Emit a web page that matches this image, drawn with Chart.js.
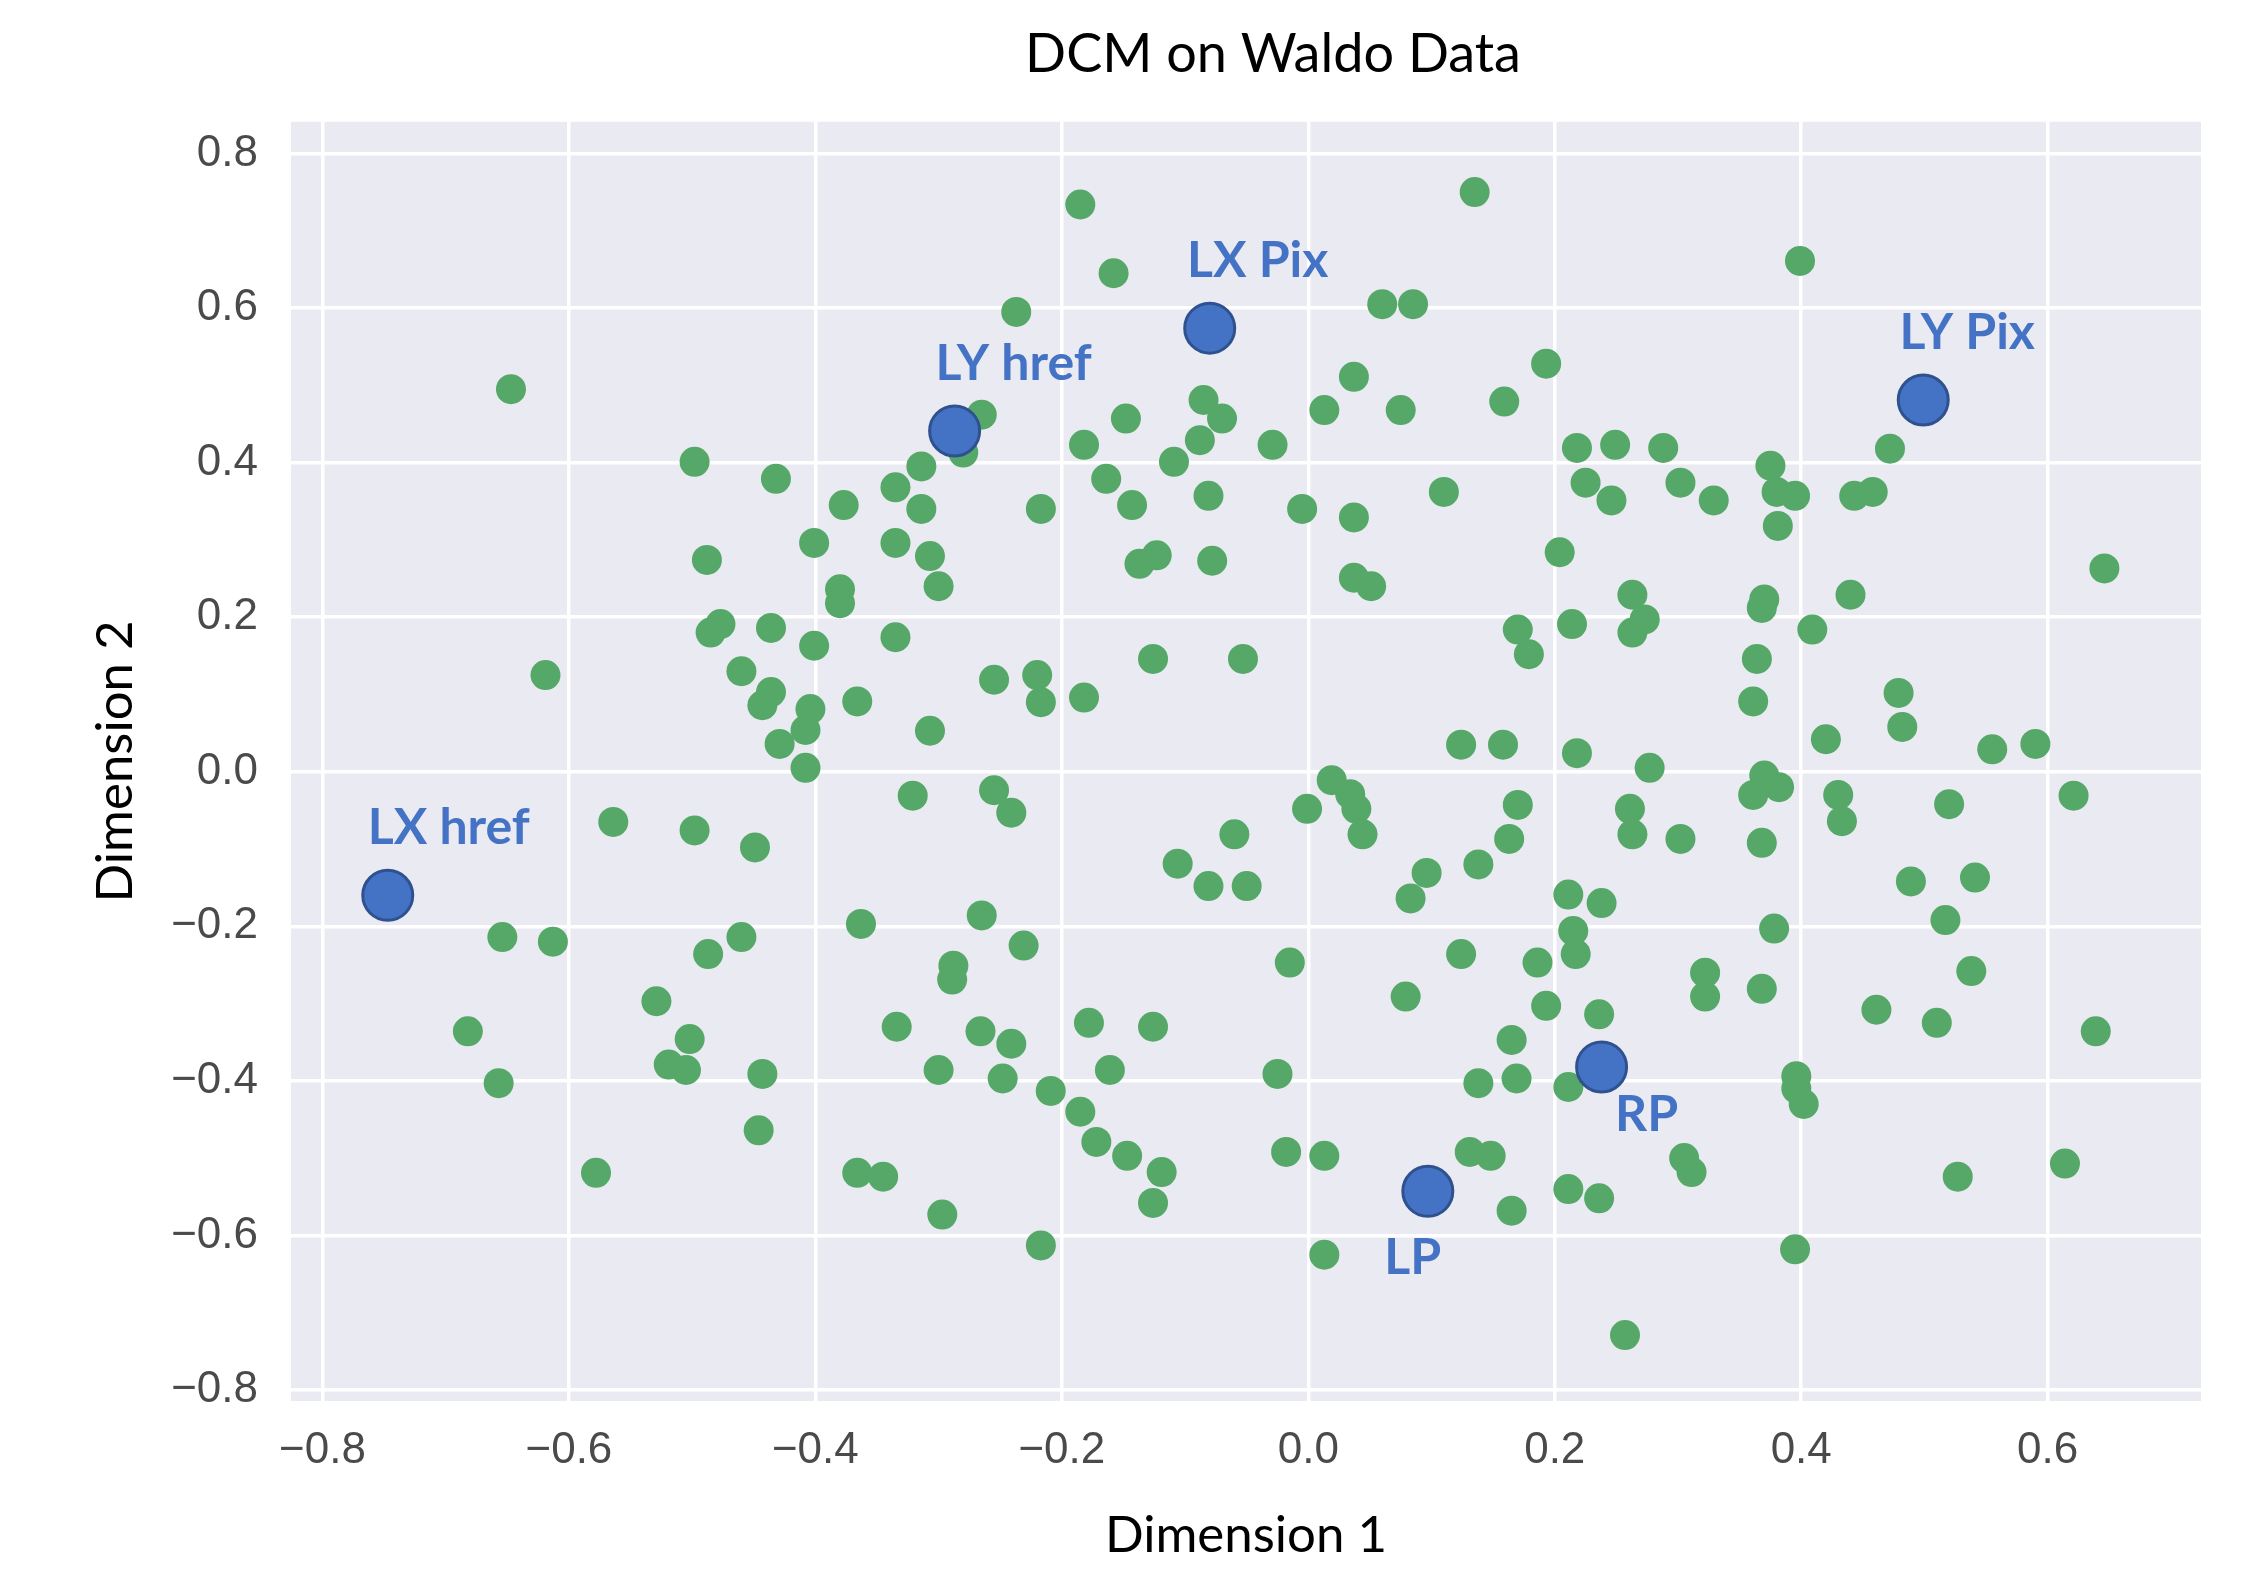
<!DOCTYPE html>
<html>
<head>
<meta charset="utf-8">
<script src="https://cdn.jsdelivr.net/npm/chart.js@4.4.1/dist/chart.umd.min.js"></script>
<style>
html,body{margin:0;padding:0;background:#fff;}
#wrap{width:2259px;height:1577px;}
canvas{display:block;}
</style>
</head>
<body>
<div id="wrap"><canvas id="c" width="2259" height="1577" style="width:2259px;height:1577px"></canvas></div>
<script>
// ---------------- DATA ----------------
const chartTitle = 'DCM on Waldo Data';
const xTitle = 'Dimension 1';
const yTitle = 'Dimension 2';

const greenX = [
-0.185,0.135,-0.158,0.399,-0.237,0.060,0.085,-0.647,0.193,0.037,
-0.265,-0.280,-0.085,-0.070,-0.088,0.013,0.075,0.159,-0.148,-0.182,
-0.029,-0.109,-0.498,-0.314,-0.432,0.218,0.249,0.288,0.375,0.472,
-0.335,-0.314,-0.377,-0.217,-0.164,-0.143,-0.081,-0.005,0.037,0.110,
0.225,0.246,0.302,0.329,0.380,0.395,0.381,0.443,0.458,-0.401,
-0.335,-0.307,-0.300,-0.488,-0.123,-0.137,-0.078,0.204,0.037,0.051,
-0.380,-0.380,0.263,0.370,0.368,0.440,0.646,-0.477,-0.485,-0.436,
-0.401,-0.335,0.170,0.214,0.263,0.273,0.409,0.179,-0.126,-0.053,
0.364,-0.619,-0.460,-0.255,-0.220,-0.217,-0.182,-0.366,-0.436,-0.443,
-0.404,-0.408,-0.429,-0.408,-0.307,0.361,0.479,0.482,0.420,0.124,
0.158,0.218,0.277,0.555,0.590,0.019,0.034,0.039,0.044,-0.001,
0.170,0.261,0.263,0.302,0.361,0.370,0.382,0.368,0.430,0.433,
0.520,0.621,-0.321,-0.255,-0.241,-0.564,-0.498,-0.449,-0.060,0.163,
-0.106,-0.081,-0.050,0.096,0.138,0.083,0.211,0.238,0.489,0.541,
-0.363,-0.654,-0.613,-0.460,-0.265,-0.231,0.215,0.217,0.378,0.517,
-0.487,-0.288,-0.289,-0.015,0.124,0.186,0.322,0.322,0.538,-0.529,
0.079,0.193,0.368,0.461,0.236,-0.682,-0.502,-0.334,-0.266,-0.241,
-0.178,-0.126,0.165,0.510,0.639,-0.519,-0.505,-0.657,-0.443,-0.300,
-0.248,-0.161,-0.025,0.138,0.169,0.211,0.396,0.396,0.402,-0.209,
-0.185,-0.446,-0.172,-0.147,-0.119,-0.018,0.013,0.131,0.148,0.305,
0.311,-0.578,-0.366,-0.345,0.614,0.527,0.211,0.236,-0.126,-0.297,
0.165,-0.217,0.013,0.395,0.257
];
const greenY = [
0.734,0.750,0.645,0.661,0.595,0.605,0.605,0.495,0.528,0.511,
0.462,0.413,0.481,0.457,0.429,0.468,0.468,0.479,0.457,0.423,
0.423,0.401,0.401,0.395,0.379,0.419,0.423,0.419,0.396,0.418,
0.368,0.340,0.345,0.340,0.379,0.345,0.357,0.340,0.329,0.362,
0.374,0.351,0.374,0.351,0.362,0.357,0.318,0.357,0.362,0.296,
0.296,0.279,0.240,0.274,0.280,0.269,0.273,0.284,0.251,0.240,
0.236,0.218,0.229,0.223,0.212,0.229,0.263,0.191,0.180,0.186,
0.163,0.174,0.184,0.191,0.180,0.197,0.184,0.152,0.146,0.146,
0.146,0.125,0.130,0.119,0.125,0.090,0.096,0.091,0.103,0.086,
0.081,0.054,0.036,0.005,0.053,0.091,0.102,0.058,0.042,0.035,
0.035,0.024,0.005,0.029,0.036,-0.011,-0.029,-0.048,-0.081,-0.048,
-0.043,-0.048,-0.081,-0.087,-0.030,-0.005,-0.020,-0.092,-0.030,-0.064,
-0.042,-0.031,-0.031,-0.024,-0.053,-0.065,-0.076,-0.098,-0.081,-0.087,
-0.119,-0.148,-0.148,-0.131,-0.120,-0.164,-0.159,-0.170,-0.142,-0.137,
-0.197,-0.214,-0.220,-0.214,-0.186,-0.225,-0.206,-0.236,-0.203,-0.192,
-0.236,-0.251,-0.269,-0.247,-0.236,-0.247,-0.260,-0.291,-0.258,-0.297,
-0.291,-0.303,-0.281,-0.308,-0.314,-0.336,-0.346,-0.330,-0.336,-0.352,
-0.325,-0.330,-0.347,-0.325,-0.336,-0.379,-0.386,-0.403,-0.391,-0.386,
-0.397,-0.386,-0.391,-0.403,-0.397,-0.408,-0.394,-0.410,-0.430,-0.413,
-0.440,-0.464,-0.479,-0.497,-0.518,-0.492,-0.497,-0.492,-0.497,-0.500,
-0.518,-0.519,-0.519,-0.524,-0.507,-0.524,-0.540,-0.552,-0.558,-0.573,
-0.568,-0.613,-0.625,-0.618,-0.729
];

const keyNames = ['LX href','LY href','LX Pix','LY Pix','RP','LP'];
const keyX = [-0.747,-0.287,-0.080,0.499,0.238,0.097];
const keyY = [-0.160,0.441,0.574,0.481,-0.382,-0.543];

const xTicks = [-0.8,-0.6,-0.4,-0.2,0.0,0.2,0.4,0.6];
const yTicks = [-0.8,-0.6,-0.4,-0.2,0.0,0.2,0.4,0.6,0.8];

// ---------------- STYLE ----------------
const labelOffsets = [[61,-67],[59,-67],[48,-67],[44,-67],[45,48],[-15,67]];
const PLOT_BG = '#EAEAF2';
const GREEN = '#55A868';
const BLUE = '#4472C4';
const BLUE_EDGE = '#2F528F';
const TICK_FONT = {family:'"Liberation Sans Narrow","Liberation Sans",Arial,sans-serif', size:44};
const TICK_COLOR = '#4a4a4a';

function fmtTick(v){
  const n = Number(v);
  const s = Math.abs(n) < 1e-9 ? '0.0' : n.toFixed(1);
  return s.replace('-', '\u2212');
}

const greenData = greenX.map((x,i)=>({x:x, y:greenY[i]}));
const keyData = keyX.map((x,i)=>({x:x, y:keyY[i]}));

const bgPlugin = {
  id:'bg',
  beforeDraw(chart){
    const {ctx, chartArea:a} = chart;
    ctx.save();
    ctx.fillStyle = '#ffffff';
    ctx.fillRect(0,0,chart.width,chart.height);
    ctx.fillStyle = PLOT_BG;
    ctx.fillRect(a.left, a.top, a.right-a.left, a.bottom-a.top);
    ctx.restore();
  }
};

const titleShift = {
  id:'titleShift',
  afterLayout(chart){
    const t = chart.titleBlock;
    if(!t) return;
    const c = (chart.chartArea.left + chart.chartArea.right)/2 + 27;
    t.left = 2*c - t.right;
    t.width = t.right - t.left;
  }
};

const keyLabels = {
  id:'keyLabels',
  afterDatasetsDraw(chart){
    const {ctx} = chart;
    const xs = chart.scales.x, ys = chart.scales.y;
    ctx.save();
    ctx.font = 'bold 50px Lato, "Open Sans", sans-serif';
    ctx.fillStyle = BLUE;
    ctx.textAlign = 'center';
    ctx.textBaseline = 'middle';
    keyNames.forEach((name,i)=>{
      const px = xs.getPixelForValue(keyX[i]) + labelOffsets[i][0];
      const py = ys.getPixelForValue(keyY[i]) + labelOffsets[i][1];
      ctx.fillText(name, px, py);
    });
    ctx.restore();
  }
};

new Chart(document.getElementById('c'), {
  type:'scatter',
  data:{
    datasets:[
      {label:'Key', data:keyData, pointRadius:25, pointHoverRadius:25,
       backgroundColor:BLUE, borderColor:BLUE_EDGE, borderWidth:3},
      {label:'Waldo', data:greenData, pointRadius:15, pointHoverRadius:15,
       backgroundColor:GREEN, borderColor:GREEN, borderWidth:0}
    ]
  },
  options:{
    responsive:false,
    devicePixelRatio:1,
    animation:false,
    events:[],
    layout:{padding:{left:0,right:58,top:0,bottom:0}},
    plugins:{
      legend:{display:false},
      tooltip:{enabled:false},
      title:{display:true, text:chartTitle, color:'#000',
        font:{family:'Lato, "Open Sans", sans-serif', size:54, weight:'normal'},
        padding:{top:22,bottom:35}}
    },
    scales:{
      x:{
        type:'linear', min:-0.8255, max:0.7244,
        afterBuildTicks(s){ s.ticks = xTicks.map(v=>({value:v})); },
        afterFit(s){ s.height = 176; },
        grid:{color:'#ffffff', lineWidth:3.5, drawTicks:false},
        border:{display:false},
        ticks:{callback:fmtTick, font:TICK_FONT, color:TICK_COLOR, padding:23, maxRotation:0, autoSkip:false},
        title:{display:true, text:xTitle, color:'#000',
          font:{family:'Lato, "Open Sans", sans-serif', size:51}, padding:{top:0,bottom:11}}
      },
      y:{
        type:'linear', min:-0.8143, max:0.841,
        afterBuildTicks(s){ s.ticks = yTicks.map(v=>({value:v})); },
        afterFit(s){ s.width = 291; },
        grid:{color:'#ffffff', lineWidth:3.5, drawTicks:false},
        border:{display:false},
        ticks:{callback:fmtTick, font:TICK_FONT, color:TICK_COLOR, padding:33, autoSkip:false},
        title:{display:true, text:yTitle, color:'#000',
          font:{family:'Lato, "Open Sans", sans-serif', size:51}, padding:{top:85,bottom:0}}
      }
    }
  },
  plugins:[bgPlugin, titleShift, keyLabels]
});
</script>
</body>
</html>
